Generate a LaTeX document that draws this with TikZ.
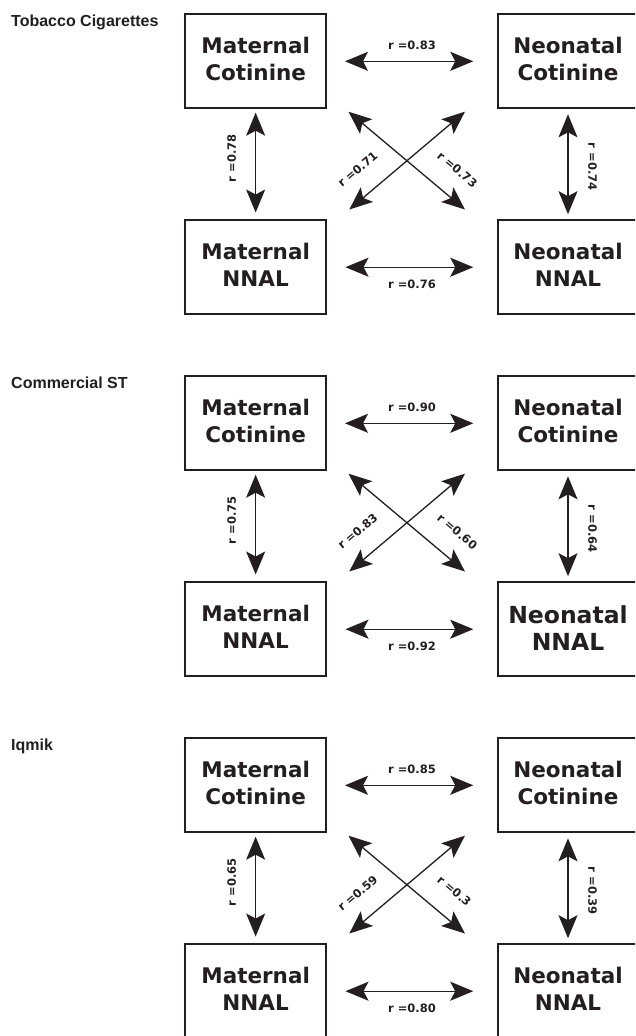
\documentclass[tikz,border=0pt]{standalone}
\usepackage{fontspec}
\setmainfont{DejaVu Sans}
\newfontfamily\titlefont{Liberation Sans}
\usetikzlibrary{arrows.meta}
\definecolor{ink}{RGB}{35,31,32}
\tikzset{
  box/.style={draw=ink, line width=1.7pt, minimum width=140.7pt, minimum height=94pt, inner sep=0pt, outer sep=0pt},
  boxtext/.style={text=ink, font=\fontsize{21.5}{26.6}\selectfont\bfseries, align=center, inner sep=0pt},
  bigtext/.style={text=ink, font=\fontsize{23.5}{26.7}\selectfont\bfseries, align=center, inner sep=0pt},
  nntext/.style={boxtext},
  rlab/.style={text=ink, font=\fontsize{11.5}{13}\selectfont\bfseries, inner sep=0pt},
  paneltitle/.style={text=ink, font=\titlefont\fontsize{16}{18}\selectfont\bfseries, anchor=base west, inner sep=0pt},
  dbl/.style={draw=ink, line width=1.3pt, {Stealth[length=23pt,width=19pt,inset=5pt]}-{Stealth[length=23pt,width=19pt,inset=5pt]}},
}
\newcommand\nnraise{2.5pt}
\newcommand\panel[9]{%
  \node[paneltitle] (#1t) at (11,26.7+#2) {#3};
  \node[box] (#1mc) at (255.65,61.3+#2) {};
  \node[box] (#1nc) at (568,61.3+#2) {};
  \node[box] (#1mn) at (255.65,267.2+#2) {};
  \node[box] (#1nn) at (568,267.2+#2) {};
  \node[boxtext] (#1mct) at ([yshift=2.5pt]#1mc.center) {Maternal\\Cotinine};
  \node[boxtext] (#1nct) at ([yshift=2.5pt]#1nc.center) {Neonatal\\Cotinine};
  \node[boxtext] (#1mnt) at ([yshift=2.5pt]#1mn.center) {Maternal\\NNAL};
  \node[nntext] (#1nnt) at ([yshift=\nnraise]#1nn.center) {Neonatal\\NNAL};
  \draw[dbl, shorten <=19pt, shorten >=24.4pt] (#1mc) -- (#1nc);
  \draw[dbl, shorten <=19.5pt, shorten >=24.4pt] (#1mn) -- (#1nn);
  \draw[dbl, shorten <=4.4pt, shorten >=7.7pt] (#1mc) -- (#1mn);
  \draw[dbl, shorten <=6pt, shorten >=6pt] (#1nc) -- (#1nn);
  \draw[dbl] ([xshift=22.5pt,yshift=-3.4pt]#1mc.south east) -- ([xshift=-32.7pt,yshift=10.7pt]#1nn.north west);
  \draw[dbl] ([xshift=-32.7pt,yshift=-3.4pt]#1nc.south west) -- ([xshift=23.3pt,yshift=10.7pt]#1mn.north east);
  \node[rlab] (#1l1) at (412,45.2+#2) {r =#4};
  \node[rlab] (#1l2) at (412,284.5+#2) {r =#5};
  \node[rlab, rotate=90] (#1l3) at (231.7,158.3+#2) {r =#6};
  \node[rlab, rotate=-90] (#1l4) at (592.5,166.7+#2) {r =#7};
  \node[rlab, rotate=40, anchor=west] (#1l5) at (339.2,184.6+#2) {r =#8};
  \node[rlab, rotate=-40, anchor=west] (#1l6) at (438.9,154.2+#2) {r =#9};
}
\begin{document}
\begin{tikzpicture}[x=1pt,y=-1pt]
  \useasboundingbox (0,0) rectangle (635,1036);
  \clip (0,0) rectangle (635,1036);
  \fill[white] (0,0) rectangle (635,1036);
  \panel{a}{0}{Tobacco Cigarettes}{0.83}{0.76}{0.78}{0.74}{0.71}{0.73}
  \renewcommand\nnraise{1.3pt}
  \tikzset{nntext/.style={bigtext}}
  \panel{b}{362}{Commercial ST}{0.90}{0.92}{0.75}{0.64}{0.83}{0.60}
  \renewcommand\nnraise{2.5pt}
  \tikzset{nntext/.style={boxtext}}
  \panel{c}{724}{Iqmik}{0.85}{0.80}{0.65}{0.39}{0.59}{0.3}
\end{tikzpicture}
\end{document}
